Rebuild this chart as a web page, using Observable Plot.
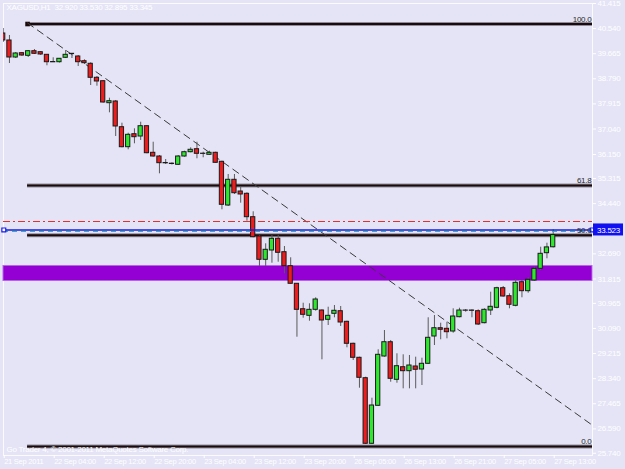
<!DOCTYPE html>
<html><head><meta charset="utf-8">
<script src="https://cdn.jsdelivr.net/npm/d3@7"></script>
<script src="https://cdn.jsdelivr.net/npm/@observablehq/plot@0.6"></script>
<style>
html,body{margin:0;padding:0;background:#e4e4f6;}
#chart{width:625px;height:469px;overflow:hidden;}
svg text{letter-spacing:-0.25px;}
</style></head><body><div id="chart"></div>
<script>
const symbolHeader = "XAGUSD,H1  32.920 33.530 32.895 33.345";
const copyright = "Go Trader 4, © 2001-2011 MetaQuotes Software Corp.";

// H1 candles, bar index 0..88
const opens  = [40.370,40.126,39.533,39.683,39.592,39.753,39.718,39.627,39.376,39.369,39.523,39.662,39.568,39.404,39.314,38.826,38.707,37.941,38.000,37.104,36.407,36.860,36.780,37.139,36.212,36.083,35.857,35.832,35.794,36.083,36.233,36.337,36.181,36.142,36.212,35.898,34.375,35.271,34.863,34.783,33.968,33.295,32.483,32.807,33.215,32.748,32.260,31.647,30.761,30.531,30.740,30.716,30.392,30.601,30.692,30.322,29.556,29.068,28.357,26.071,27.395,29.113,29.611,28.301,28.740,28.601,28.765,28.660,28.859,29.810,30.099,30.078,29.984,30.483,30.716,30.716,30.692,30.274,30.716,30.810,31.493,31.215,30.880,31.702,31.389,31.762,32.169,32.713,32.920];
const highs  = [40.544,40.300,39.707,39.707,39.777,39.812,39.742,39.638,39.523,39.498,39.777,39.673,39.603,39.453,39.348,38.871,38.732,38.115,38.035,37.244,36.895,37.048,37.278,37.163,36.581,36.118,35.978,35.863,36.118,36.268,36.386,36.581,36.233,36.268,36.233,35.919,35.456,35.456,35.013,34.818,34.156,33.330,33.041,33.330,33.330,32.947,32.553,31.657,30.970,30.950,31.159,30.740,30.831,30.890,30.856,30.343,29.577,29.089,28.392,27.660,29.347,30.019,29.671,29.207,29.172,29.148,29.089,29.054,30.462,30.542,30.274,30.308,30.775,30.796,30.751,30.740,30.740,30.775,31.354,31.528,31.553,31.298,31.786,31.762,31.856,32.225,32.922,33.062,33.530];
const lows   = [40.056,39.324,39.498,39.568,39.533,39.638,39.603,39.244,39.359,39.341,39.498,39.498,39.220,39.289,38.557,38.533,37.941,37.606,36.780,36.386,36.317,36.526,36.641,36.177,36.059,35.480,35.804,35.787,35.769,36.059,36.212,36.003,36.038,36.128,35.850,34.226,34.341,34.759,34.456,33.828,33.250,32.250,32.250,32.365,32.399,31.995,31.640,29.786,30.448,30.343,30.692,28.998,30.193,30.462,30.159,29.416,28.974,28.008,26.046,26.046,27.371,29.089,28.217,28.183,27.987,27.987,27.987,28.102,28.834,29.496,29.695,29.730,29.925,30.462,30.657,30.462,30.193,30.253,30.542,30.775,31.180,30.775,30.845,31.159,31.319,31.737,32.110,32.518,32.895];
const closes = [40.126,39.533,39.673,39.603,39.753,39.662,39.638,39.369,39.366,39.488,39.627,39.652,39.369,39.335,38.826,38.697,37.965,38.010,37.129,36.407,36.839,36.756,37.139,36.198,36.083,35.850,35.846,35.822,36.083,36.233,36.317,36.177,36.174,36.212,35.863,34.400,35.271,34.804,34.759,33.968,33.271,32.483,32.832,33.215,32.727,32.260,31.647,30.740,30.566,30.740,31.099,30.368,30.531,30.706,30.298,29.556,29.068,28.371,26.071,27.405,29.172,29.611,28.336,28.775,28.601,28.799,28.650,28.859,29.765,30.099,30.044,29.960,30.507,30.716,30.709,30.706,30.228,30.740,30.845,31.493,31.204,30.915,31.681,31.389,31.786,32.169,32.692,32.915,33.345];

const timeTicks  = [0, 8, 16, 24, 32, 40, 48, 56, 64, 72, 80, 88];
const timeLabels = ["21 Sep 2011","22 Sep 04:00","22 Sep 12:00","22 Sep 20:00","23 Sep 04:00","23 Sep 12:00","23 Sep 20:00","26 Sep 05:00","26 Sep 13:00","26 Sep 21:00","27 Sep 05:00","27 Sep 13:00"];
const priceTicks = [41.415,40.540,39.665,38.790,37.915,37.040,36.150,35.315,34.440,32.690,31.815,30.965,30.090,29.215,28.340,27.465,26.590,25.740];

const fibLabels = ["100.0","61.8","50.0","0.0"];
const fibPrices = [40.700,35.076,33.339,25.977];
const fibStartBar = 3.9;
const trendBars   = [3.9, 94.29];
const trendPrices = [40.735, 26.716];
const dashDotPrice = 33.818;
const bidPrice = 33.523;
const zoneTop = 32.267, zoneBottom = 31.744;

const xDomain = [0.05, 94.29];
const yDomain = [25.663, 41.415];

const candles = opens.map((o, i) => ({i, o, h: highs[i], l: lows[i], c: closes[i], up: closes[i] >= o}));
const fibs = fibLabels.map((label, k) => ({label, price: fibPrices[k]}));
const trend = trendBars.map((b, k) => ({bar: b, price: trendPrices[k]}));

const font = "Liberation Sans, Arial, sans-serif";

const chart = Plot.plot({
  width: 625, height: 469,
  marginLeft: 3, marginRight: 33, marginTop: 3, marginBottom: 14,
  style: {background: "#e4e4f6", fontFamily: font, fontSize: "8px", overflow: "visible"},
  x: {domain: xDomain, axis: null},
  y: {domain: yDomain, axis: null},
  marks: [
    Plot.frame({stroke: "#fbfbff", strokeWidth: 1}),
    Plot.rect([0], {x1: xDomain[0], x2: xDomain[1], y1: zoneBottom, y2: zoneTop, fill: "#9400d3", stroke: "#b565e8", strokeWidth: 1}),
    Plot.ruleY(fibs, {y: "price", x1: fibStartBar, x2: xDomain[1], stroke: "#8c8c9c", strokeWidth: 4}),
    Plot.ruleY(fibs, {y: "price", x1: fibStartBar, x2: xDomain[1], stroke: "#1c0a0a", strokeWidth: 2}),
    Plot.dot([fibs[0]], {x: fibStartBar, y: "price", symbol: "square", r: 2.6, fill: "#1c0a0a"}),
    Plot.line(trend, {x: "bar", y: "price", stroke: "#3a3a3a", strokeWidth: 1, strokeDasharray: "7,5"}),
    Plot.ruleY([dashDotPrice], {x1: xDomain[0], x2: xDomain[1], stroke: "#e03030", strokeWidth: 1, strokeDasharray: "7,3,2,3"}),
    Plot.ruleX(candles, {x: "i", y1: "l", y2: "h", stroke: "#5a5a5a", strokeWidth: 1, clip: true}),
    Plot.rect(candles, {x1: d => d.i - 0.34, x2: d => d.i + 0.34, y1: "o", y2: "c",
      fill: d => d.up ? "#2ee82e" : "#ee1c1c", stroke: "#1a1a1a", strokeWidth: 1, clip: true}),
    Plot.ruleY([bidPrice], {x1: xDomain[0], x2: xDomain[1], stroke: "#1a1ae8", strokeWidth: 1.5}),
    Plot.ruleY([bidPrice], {x1: xDomain[0], x2: xDomain[1], stroke: "#30b0a0", strokeWidth: 1, strokeDasharray: "5,4", dy: 1.5}),
    Plot.dot([xDomain[0] + 0.05, xDomain[1] - 0.05], {x: d => d, y: bidPrice, symbol: "square", r: 2.2, fill: "white", stroke: "#1a1ae8", strokeWidth: 1.2}),
    Plot.text(fibs, {x: xDomain[1], y: "price", text: "label", textAnchor: "end", dx: -1, dy: -5, fill: "#2a2a2a", fontSize: 8}),
    Plot.axisY(priceTicks, {anchor: "right", tickSize: 3, tickPadding: 2, tickFormat: d => d.toFixed(3), color: "white", fontSize: 8}),
    Plot.axisX(timeTicks, {anchor: "bottom", tickSize: 3, tickPadding: 0, tickFormat: d => timeLabels[timeTicks.indexOf(d)], textAnchor: "start", dx: 1, color: "white", fontSize: 7.5}),
    Plot.rect([bidPrice], {x1: xDomain[1], x2: xDomain[1], y1: d => d, y2: d => d, insetLeft: 1, insetRight: -31, insetTop: -6, insetBottom: -6, fill: "#1010f0"}),
    Plot.text([bidPrice], {x: xDomain[1], y: d => d, text: d => d.toFixed(3), dx: 16, fill: "white", fontSize: 8}),
    Plot.text([symbolHeader], {frameAnchor: "top-left", dx: 3, dy: 1, fill: "white", fontSize: 8, textAnchor: "start"}),
    Plot.text([copyright], {frameAnchor: "bottom-left", dx: 3, dy: -4, fill: "white", fontSize: 8, textAnchor: "start"})
  ]
});
document.getElementById("chart").appendChild(chart);
</script>
</body></html>
